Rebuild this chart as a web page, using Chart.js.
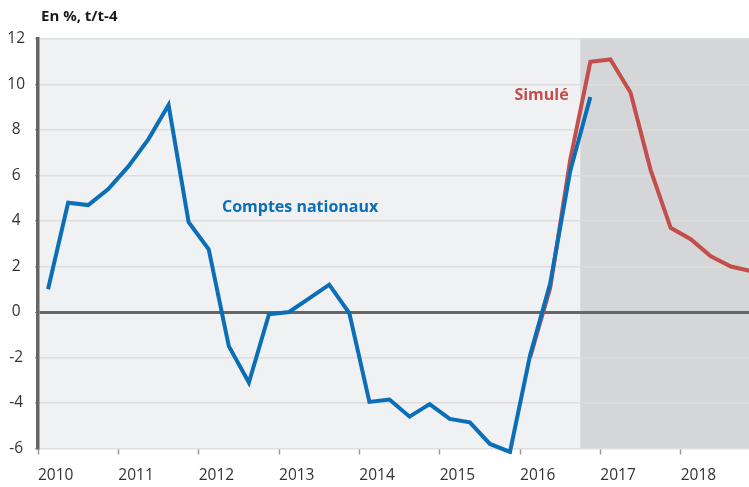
<!DOCTYPE html>
<html>
<head>
<meta charset="utf-8">
<script src="https://cdn.jsdelivr.net/npm/chart.js@4"></script>
<style>
  html, body { margin: 0; padding: 0; background: #fff; overflow: hidden; }
  #chart { display: block; }
</style>
</head>
<body>
<canvas id="chart" width="749" height="487"></canvas>
<script>
// tick labels (one per year, quarterly data)
const YEARS = ['2010', '2011', '2012', '2013', '2014', '2015', '2016', '2017', '2018'];

// Comptes nationaux, 2010T1 .. 2016T4
const COMPTES = [1.0, 4.8, 4.7, 5.4, 6.4, 7.6, 9.1, 3.95, 2.75, -1.5, -3.1, -0.1,
                 0.0, 0.6, 1.2, -0.05, -3.95, -3.85, -4.6, -4.05, -4.7, -4.85, -5.8, -6.15,
                 -1.9, 1.25, 6.2, 9.45];

// Simulé, starts at 2016T1 (quarter index 24) .. 2018T4
const SIMULE_START = 24;
const SIMULE = [-2.0, 1.05, 6.7, 11.0, 11.1, 9.65, 6.25, 3.7, 3.2, 2.45, 2.0, 1.8];

// shaded projection period begins at end of 2016T3
const SHADE_FROM = 26.5;

const BLUE = '#0a6fb7';
const RED = '#c44e4c';

const toPoints = (values, start) => values.map((v, i) => ({ x: start + i, y: v }));

const backgroundPlugin = {
    id: 'bg',
    beforeDraw(chart) {
        const { ctx, chartArea: a, scales } = chart;
        ctx.save();
        ctx.fillStyle = '#f0f1f3';
        ctx.fillRect(a.left, a.top, a.right - a.left, a.bottom - a.top);
        const xs = scales.x.getPixelForValue(SHADE_FROM);
        ctx.fillStyle = '#d5d6d8';
        ctx.fillRect(xs, a.top, a.right - xs, a.bottom - a.top);
        ctx.restore();
    }
};

const labelsPlugin = {
    id: 'labels',
    afterDraw(chart) {
        const { ctx, scales } = chart;
        ctx.save();
        ctx.textBaseline = 'middle';
        ctx.font = 'bold 15px "Open Sans"';
        ctx.fillStyle = '#1a1a1a';
        ctx.textAlign = 'left';
        ctx.fillText('En %, t/t-4', 41, 17);

        ctx.textAlign = 'center';
        ctx.font = 'bold 16px "Open Sans"';
        ctx.fillStyle = BLUE;
        ctx.fillText('Comptes nationaux', scales.x.getPixelForValue(12.55), scales.y.getPixelForValue(4.6));
        ctx.fillStyle = RED;
        ctx.fillText('Simulé', scales.x.getPixelForValue(24.57), scales.y.getPixelForValue(9.5));
        ctx.restore();
    }
};

Chart.defaults.font.family = '"Open Sans"';
Chart.defaults.color = '#333';

new Chart(document.getElementById('chart'), {
    type: 'line',
    data: {
        datasets: [
            {
                label: 'Comptes nationaux',
                data: toPoints(COMPTES, 0),
                borderColor: BLUE,
                borderWidth: 4,
                pointRadius: 0,
                tension: 0,
                clip: { left: 0, top: 0, right: 0, bottom: 6 }
            },
            {
                label: 'Simulé',
                data: toPoints(SIMULE, SIMULE_START),
                borderColor: RED,
                borderWidth: 4,
                pointRadius: 0,
                tension: 0,
                clip: { left: 0, top: 0, right: 0, bottom: 6 }
            }
        ]
    },
    options: {
        responsive: false,
        animation: false,
        devicePixelRatio: 1,
        layout: { padding: { top: 39, right: 0, left: 0, bottom: 0 } },
        plugins: {
            legend: { display: false },
            tooltip: { enabled: false }
        },
        scales: {
            x: {
                type: 'linear',
                min: -0.5,
                max: 34.9,
                afterBuildTicks: scale => {
                    scale.ticks = YEARS.map((y, i) => ({ value: -0.5 + 4 * i }));
                },
                afterFit: scale => { scale.height = 38.5; },
                ticks: {
                    align: 'start',
                    padding: 12,
                    font: { size: 15.5 },
                    maxRotation: 0,
                    autoSkip: false,
                    callback: (value, index) => YEARS[index]
                },
                grid: {
                    drawOnChartArea: false,
                    drawTicks: true,
                    tickLength: 6,
                    tickColor: '#999',
                    tickWidth: 1.5
                },
                border: { display: false }
            },
            y: {
                min: -6,
                max: 12,
                afterFit: scale => { scale.width = 38; },
                ticks: {
                    stepSize: 2,
                    crossAlign: 'center',
                    padding: 10,
                    font: { size: 15.5 }
                },
                grid: {
                    color: ctx => ctx.tick && ctx.tick.value === 0 ? '#666' : '#dcdddf',
                    lineWidth: ctx => ctx.tick && ctx.tick.value === 0 ? 3 : 1.5,
                    tickLength: 3,
                    tickColor: '#888',
                    tickWidth: 1
                },
                border: { color: '#666', width: 3.5 }
            }
        }
    },
    plugins: [backgroundPlugin, labelsPlugin]
});
</script>
</body>
</html>
